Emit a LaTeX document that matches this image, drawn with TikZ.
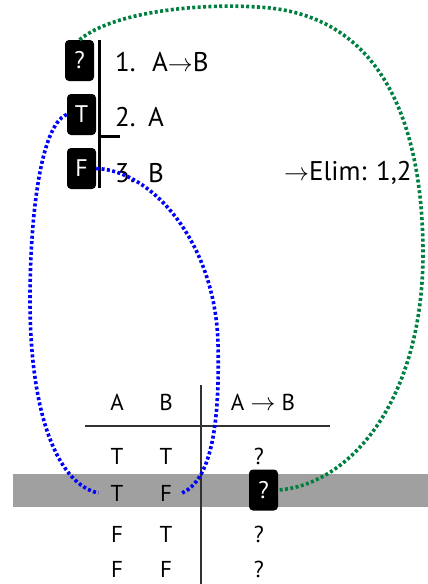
\documentclass[tikz,border=0pt]{standalone}
\usepackage{fontspec}
\setmainfont{PT Sans}
\definecolor{dotgreen}{RGB}{0,128,64}
\definecolor{bandgray}{RGB}{160,160,160}
\definecolor{rulegray}{RGB}{50,50,50}
\tikzset{
  valbox/.style={fill=black, text=white, rounded corners=4pt, minimum width=29pt,
    minimum height=41pt, inner sep=0pt, font=\fontsize{24}{28}\selectfont},
  prooftxt/.style={anchor=west, inner sep=0pt, font=\fontsize{27}{32}\selectfont},
  cell/.style={inner sep=0pt, font=\fontsize{23}{28}\selectfont},
  trace/.style={line width=3.6pt, dash pattern=on 3pt off 2.4pt},
}
\begin{document}
\begin{tikzpicture}[x=1pt,y=-1pt]
  \useasboundingbox (0,0) rectangle (428,584);
  % marked row
  \fill[bandgray] (13,474) rectangle (428,507);
  % proof
  \draw[line width=3pt] (99,40) -- (99,188);
  \draw[line width=3pt] (99,136) -- (120,136);
  \node[valbox] (box1) at (79.5,60.5) {?};
  \node[valbox] (box2) at (81.5,114.5) {T};
  \node[valbox] (box3) at (81.5,168.5) {F};
  \node[prooftxt] (n1) at (115,62) {1.};
  \node[prooftxt] (f1) at (152,62) {A$\rightarrow$B};
  \node[prooftxt] (n2) at (115,117) {2.};
  \node[prooftxt] (f2) at (148,117) {A};
  \node[prooftxt] (n3) at (115,173) {3.};
  \node[prooftxt] (f3) at (148,173) {B};
  \node[prooftxt] (rule) at (284,173) {$\rightarrow$Elim: 1,2};
  % table
  \draw[rulegray, line width=2pt] (201,385) -- (201,584);
  \draw[rulegray, line width=2pt] (85,426) -- (330,426);
  \node[cell] (hA) at (117,402) {A};
  \node[cell] (hB) at (166,402) {B};
  \node[cell] (hAB) at (263,402) {A $\rightarrow$ B};
  \node[cell] (r1a) at (117,456) {T};
  \node[cell] (r1b) at (166,456) {T};
  \node[cell] (r1c) at (259,456) {?};
  \node[cell] (r2a) at (117,493) {T};
  \node[cell] (r2b) at (166,493) {F};
  \node[valbox] (boxq) at (263.5,490) {?};
  \node[cell] (r3a) at (117,534) {F};
  \node[cell] (r3b) at (166,534) {T};
  \node[cell] (r3c) at (259,534) {?};
  \node[cell] (r4a) at (117,569) {F};
  \node[cell] (r4b) at (166,569) {F};
  \node[cell] (r4c) at (259,569) {?};
  % links
  \draw[trace, dotgreen] (box1.north) .. controls (115,10) and (210,2) .. (270,8)
    .. controls (380,20) and (422,120) .. (423,250)
    .. controls (424,400) and (350,485) .. (boxq.east);
  \draw[trace, blue] (box2.west) .. controls (40,125) and (30,220) .. (30,300)
    .. controls (30,420) and (60,485) .. ([xshift=-12pt]r2a.west);
  \draw[trace, blue] (box3.east) .. controls (150,170) and (215,240) .. (218,343)
    .. controls (220,430) and (210,480) .. ([xshift=10pt]r2b.east);
\end{tikzpicture}
\end{document}
